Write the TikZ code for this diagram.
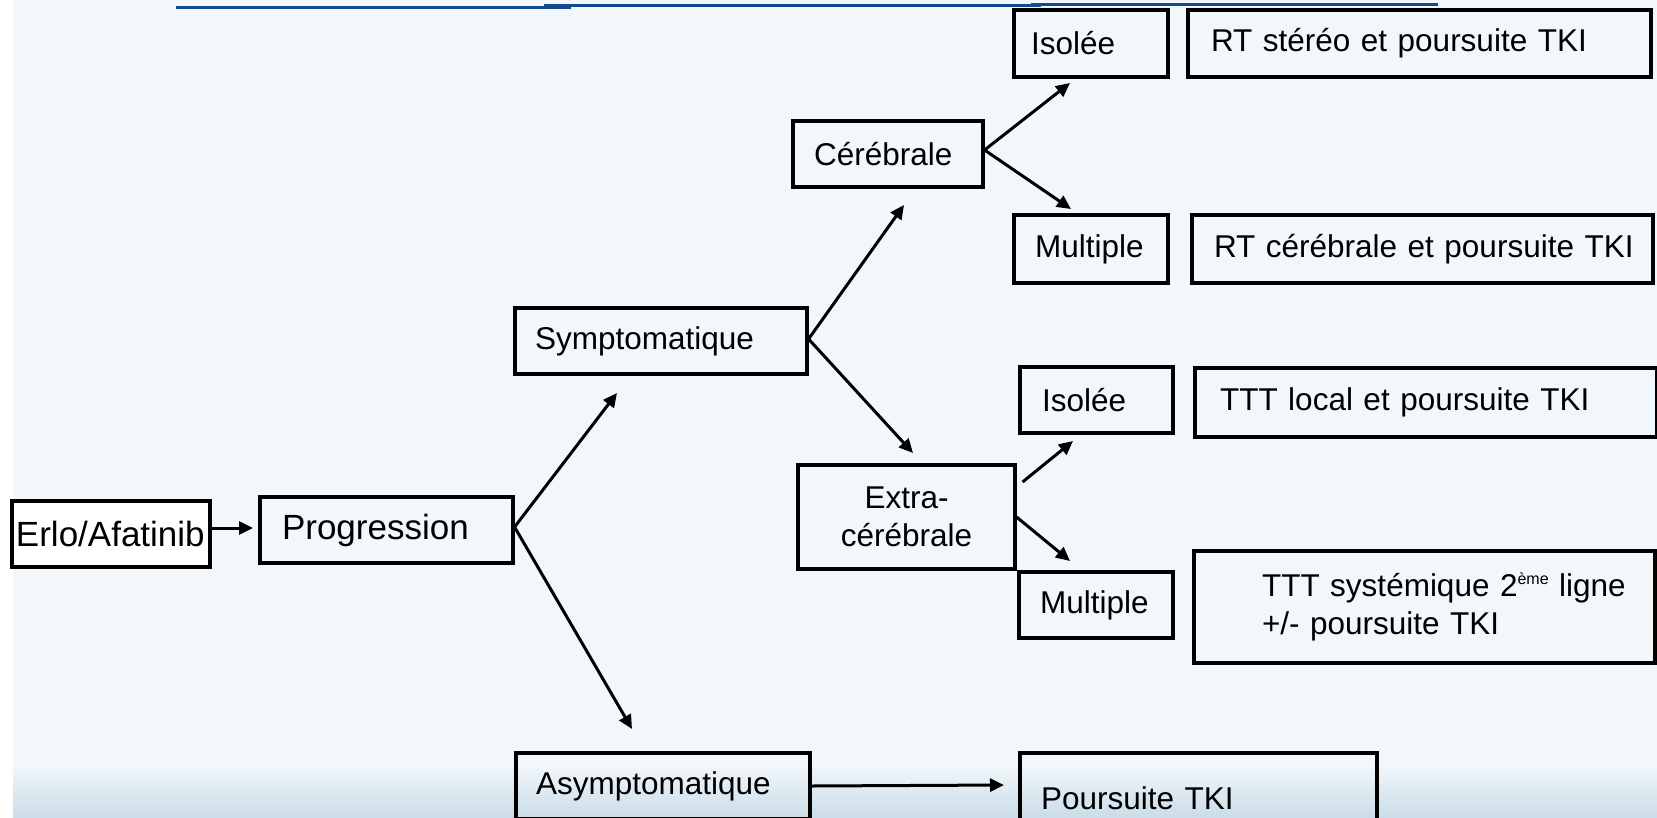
\documentclass[tikz,border=0pt]{standalone}
\usepackage{fontspec}
\setmainfont{Liberation Sans}
\usetikzlibrary{arrows.meta,calc}

\definecolor{bgmain}{HTML}{F1F7FA}
\definecolor{bgbottom}{HTML}{CADCE8}
\definecolor{rulecol}{HTML}{134C8C}

\newcommand\boxfont{\fontsize{31.5}{38}\selectfont\hyphenpenalty=10000\relax}
\newcommand\bigboxfont{\fontsize{35}{42}\selectfont\hyphenpenalty=10000\relax}

\begin{document}
\begin{tikzpicture}[x=1pt,y=-1pt,
  box/.style={draw=black, line width=3.1pt, align=left, inner ysep=0pt, font=\boxfont},
  bigbox/.style={box, font=\bigboxfont},
  arr/.style={draw=black, line width=3pt, -{Triangle[length=14pt,width=13pt]}}]

% page and background
\useasboundingbox (0,0) rectangle (1657,817);
\clip (0,0) rectangle (1657,817);
\fill[bgmain] (0,0) rectangle (1657,817);
\shade[top color=bgmain, bottom color=bgbottom] (13,765) rectangle (1657,818);
\fill[white] (0,0) rectangle (13,817);

% header rule
\draw[rulecol, line width=3pt] (176,7.5) -- (571,7.5);
\draw[rulecol, line width=3pt] (544,5.8) -- (1041,5.8);
\draw[rulecol, line width=3pt] (1031,4.2) -- (1438,4.2);

% first line of treatment
\node[bigbox, fill=white, text width=190, inner xsep=4, minimum height=66]
  (erlo) at (111,534) {\mbox{Erlo/Afatinib}};
\node[bigbox, text width=209, inner xsep=22, minimum height=66]
  (prog) at (386.5,530) {Progression};

% symptomatic / asymptomatic
\node[box, text width=252, inner xsep=20, minimum height=66]
  (sym) at (661,341) {Symptomatique};
\node[box, text width=254, inner xsep=20, minimum height=66]
  (asym) at (663,786) {Asymptomatique};
\node[box, text width=315, inner xsep=21, minimum height=90]
  (pours) at (1198.5,798) {Poursuite TKI};

% localisation
\node[box, text width=148, inner xsep=21, minimum height=66]
  (cer) at (888,154) {Cérébrale};
\node[box, align=center, text width=197, inner xsep=10, minimum height=104]
  (extra) at (906.5,517) {Extra-\\cérébrale};

% brain branch
\node[box, text width=120, inner xsep=17, minimum height=67]
  (iso1) at (1091,43.5) {Isolée};
\node[box, text width=417, inner xsep=23, minimum height=67]
  (rt1) at (1419.5,43.5) {\mbox{RT stéréo et poursuite TKI}};
\node[box, text width=112, inner xsep=21, minimum height=68]
  (mul1) at (1091,249) {Multiple};
\node[box, text width=417, inner xsep=22, minimum height=68]
  (rt2) at (1422.5,249) {\mbox{RT cérébrale et poursuite TKI}};

% extra-cerebral branch
\node[box, text width=109, inner xsep=22, minimum height=66]
  (iso2) at (1096.5,400) {Isolée};
\node[box, text width=412, inner xsep=25, minimum height=69]
  (ttt1) at (1426,402.5) {\mbox{TTT local et poursuite TKI}};
\node[box, text width=112, inner xsep=21, minimum height=66]
  (mul2) at (1096,605) {Multiple};
\node[box, text width=441, inner xsep=10, minimum height=112]
  (ttt2) at (1424.5,607)
  {\hspace*{58pt}\mbox{TTT systémique 2\raisebox{12pt}{\fontsize{16}{16}\selectfont ème} ligne}\\
   \hspace*{58pt}+/- poursuite TKI};

% arrow tips
\coordinate (tProg)  at (253,528);
\coordinate (tSym)   at (617,393);
\coordinate (tAsym)  at (632,729);
\coordinate (tCer)   at (904,205);
\coordinate (tExt)   at (913,453);
\coordinate (tIso1)  at (1070,83);
\coordinate (tMul1)  at (1071,209);
\coordinate (tIso2)  at (1073,441);
\coordinate (tMul2)  at (1070,561);
\coordinate (tPours) at (1004,785);

% connectors
\draw[arr] ([yshift=6pt]erlo.east) -- (tProg);
\draw[arr] ([yshift=3pt]prog.east) -- (tSym);
\draw[arr] ([yshift=3pt]prog.east) -- (tAsym);
\draw[arr] ([yshift=2pt]sym.east) -- (tCer);
\draw[arr] ([yshift=2pt]sym.east) -- (tExt);
\draw[arr] ([yshift=4pt]cer.east) -- (tIso1);
\draw[arr] ([yshift=4pt]cer.east) -- (tMul1);
\draw[arr] ($(extra.east)+(6,-35)$) -- (tIso2);
\draw[arr] (extra.east) -- (tMul2);
\draw[arr] (asym.east) -- (tPours);
\end{tikzpicture}
\end{document}
